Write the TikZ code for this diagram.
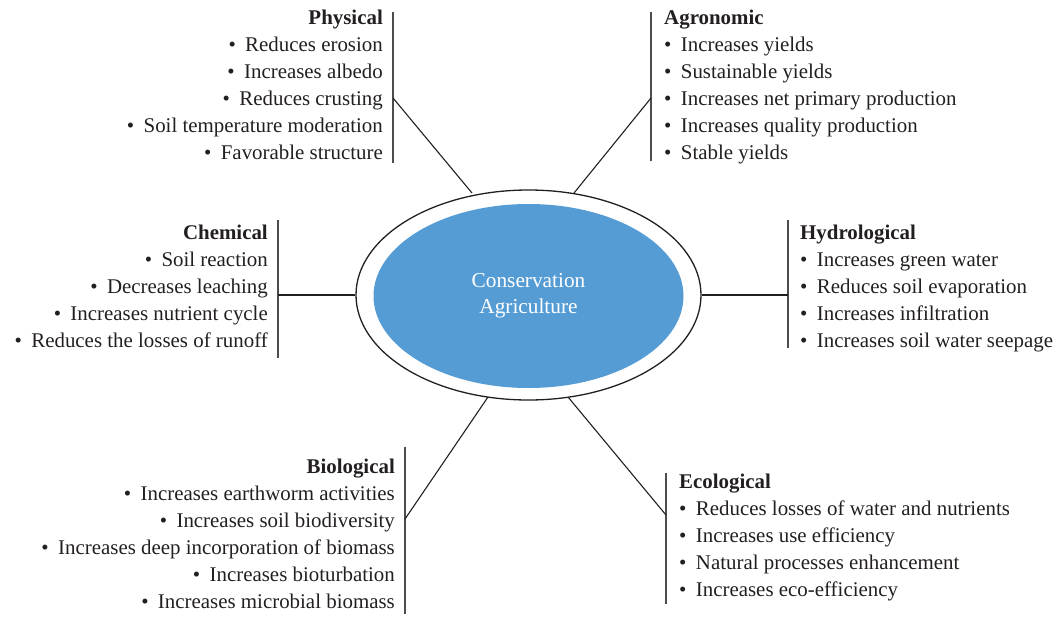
\documentclass[tikz,border=0pt]{standalone}
\usepackage{fontspec}
\setmainfont{Liberation Serif}
\usetikzlibrary{shapes.geometric}
\definecolor{caBlue}{RGB}{85,156,213}
\definecolor{ink}{RGB}{35,31,32}
\newcommand\bl{\textbullet\hspace{0.45em}}
\begin{document}
\begin{tikzpicture}[x=1pt,y=-1pt,
  itemtxt/.style={inner sep=0pt, text=ink, font=\fontsize{20.9}{26}\selectfont},
  itemR/.style={itemtxt, anchor=base east},
  itemL/.style={itemtxt, anchor=base west},
  conn/.style={draw=ink, line width=1.1pt},
  bar/.style={draw=ink!80, line width=1.3pt}]
\useasboundingbox (0,0) rectangle (1056,618);
% centre
\node[ellipse, draw=ink, line width=1.3pt, minimum width=345pt, minimum height=210pt] (outer) at (528.5,295) {};
\node[ellipse, fill=caBlue, minimum width=310pt, minimum height=184pt, text=white,
  align=center, font=\fontsize{21.3}{26}\selectfont] (core) at (528.5,296) {Conservation\\Agriculture};
% Physical
\foreach \t [count=\i from 0] in {{\textbf{Physical}},{\bl Reduces erosion},{\bl Increases albedo},{\bl Reduces crusting},{\bl Soil temperature moderation},{\bl Favorable structure}}
  \node[itemR] (phys-\i) at (383,24.5+27*\i) {\t};
% Agronomic
\foreach \t [count=\i from 0] in {{\textbf{Agronomic}},{\bl Increases yields},{\bl Sustainable yields},{\bl Increases net primary production},{\bl Increases quality production},{\bl Stable yields}}
  \node[itemL] (agro-\i) at (664,24.5+27*\i) {\t};
% Chemical
\foreach \t [count=\i from 0] in {{\textbf{Chemical}},{\bl Soil reaction},{\bl Decreases leaching},{\bl Increases nutrient cycle},{\bl Reduces the losses of runoff}}
  \node[itemR] (chem-\i) at (268,239.5+27*\i) {\t};
% Hydrological
\foreach \t [count=\i from 0] in {{\textbf{Hydrological}},{\bl Increases green water},{\bl Reduces soil evaporation},{\bl Increases infiltration},{\bl Increases soil water seepage}}
  \node[itemL] (hydr-\i) at (800,239.5+27*\i) {\t};
% Biological
\foreach \t [count=\i from 0] in {{\textbf{Biological}},{\bl Increases earthworm activities},{\bl Increases soil biodiversity},{\bl Increases deep incorporation of biomass},{\bl Increases bioturbation},{\bl Increases microbial biomass}}
  \node[itemR] (biol-\i) at (395,473.5+27*\i) {\t};
% Ecological
\foreach \t [count=\i from 0] in {{\textbf{Ecological}},{\bl Reduces losses of water and nutrients},{\bl Increases use efficiency},{\bl Natural processes enhancement},{\bl Increases eco-efficiency}}
  \node[itemL] (ecol-\i) at (679,488.5+27*\i) {\t};
% bars
\coordinate (pT) at (393,12);  \coordinate (pB) at (393,163); \coordinate (pJ) at (393,98);
\coordinate (aT) at (651,12);  \coordinate (aB) at (651,161); \coordinate (aJ) at (651,98);
\coordinate (cT) at (278,220); \coordinate (cB) at (278,358); \coordinate (cJ) at (278,295);
\coordinate (hT) at (788,220); \coordinate (hB) at (788,348); \coordinate (hJ) at (788,295);
\coordinate (bT) at (405,447); \coordinate (bB) at (405,614); \coordinate (bJ) at (405,519);
\coordinate (eT) at (666,473); \coordinate (eB) at (666,604); \coordinate (eJ) at (666,515);
\foreach \k in {p,a,c,h,b,e} \draw[bar] (\k T) -- (\k B);
% connectors
\coordinate (oP) at (472,193);
\coordinate (oA) at (574,193);
\coordinate (oB) at (488,397);
\coordinate (oE) at (568,397);
\draw[conn] (oP) -- (pJ);
\draw[conn] (oA) -- (aJ);
\draw[conn] (outer.west) -- (cJ);
\draw[conn] (outer.east) -- (hJ);
\draw[conn] (oB) -- (bJ);
\draw[conn] (oE) -- (eJ);
\end{tikzpicture}
\end{document}
